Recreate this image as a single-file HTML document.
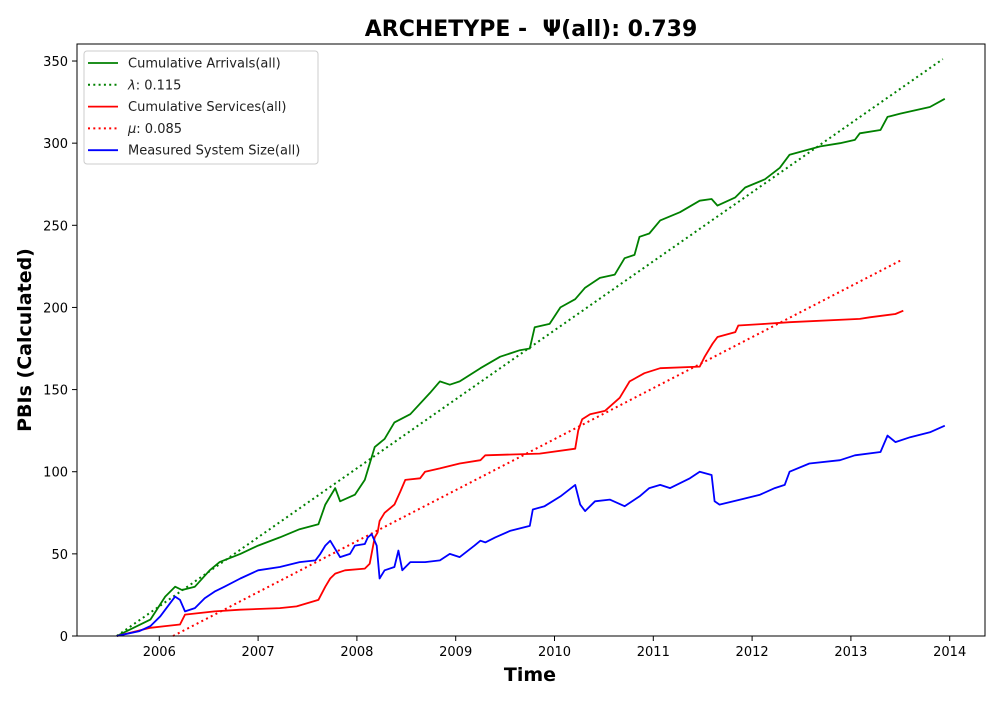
<!DOCTYPE html>
<html><head><meta charset="utf-8"><style>
body{margin:0;background:#fff;font-family:"Liberation Sans","DejaVu Sans",sans-serif}
</style></head><body>
<svg id="chart" width="1000" height="700" xmlns="http://www.w3.org/2000/svg" font-family="DejaVu Sans, Liberation Sans, sans-serif">
<rect width="1000" height="700" fill="#fff"/>
<text x="531" y="36" text-anchor="middle" font-size="22" font-weight="bold">ARCHETYPE -&#160; Ψ(all): 0.739</text>
<text x="530" y="681" text-anchor="middle" font-size="19" font-weight="bold">Time</text>
<text transform="translate(31,340) rotate(-90)" text-anchor="middle" font-size="19" font-weight="bold">PBIs (Calculated)</text>
<g id="ticks"></g>
<g id="series"></g>
<rect x="77" y="44" width="908" height="592" fill="none" stroke="#000" stroke-width="1"/>
<g id="legend">
<rect x="84" y="51" width="234" height="113" rx="3" fill="#fff" fill-opacity="0.8" stroke="#ccc"/>
</g>
</svg>
<script>
const arrYears=[2005.57,2005.91,2006.06,2006.16,2006.23,2006.36,2006.51,2006.61,2006.82,2007.00,2007.22,2007.42,2007.61,2007.68,2007.78,2007.83,2007.98,2008.08,2008.18,2008.28,2008.38,2008.54,2008.74,2008.84,2008.94,2009.04,2009.25,2009.45,2009.65,2009.75,2009.80,2009.95,2010.06,2010.21,2010.31,2010.46,2010.61,2010.71,2010.81,2010.86,2010.96,2011.07,2011.27,2011.47,2011.59,2011.65,2011.83,2011.93,2012.13,2012.28,2012.38,2012.69,2012.89,2013.04,2013.09,2013.30,2013.37,2013.50,2013.80,2013.95];
const arrVals=[0,10,24,30,28,30,40,45,50,55,60,65,68,80,90,82,86,95,115,120,130,135,148,155,153,155,163,170,174,175,188,190,200,205,212,218,220,230,232,243,245,253,258,265,266,262,267,273,278,285,293,298,300,302,306,308,316,318,322,327];
const svcYears=[2005.57,2005.91,2006.06,2006.21,2006.26,2006.41,2006.56,2006.82,2007.22,2007.39,2007.61,2007.68,2007.73,2007.78,2007.88,2008.08,2008.13,2008.18,2008.21,2008.23,2008.28,2008.38,2008.44,2008.49,2008.64,2008.69,2008.84,2009.04,2009.25,2009.30,2009.85,2010.21,2010.24,2010.28,2010.36,2010.51,2010.66,2010.76,2010.91,2011.07,2011.47,2011.52,2011.60,2011.65,2011.83,2011.86,2012.13,2012.38,2013.09,2013.19,2013.45,2013.53];
const svcVals=[0,5,6,7,13,14,15,16,17,18,22,30,35,38,40,41,44,60,63,70,75,80,88,95,96,100,102,105,107,110,111,114,125,132,135,137,145,155,160,163,164,170,178,182,185,189,190,191,193,194,196,198];
const sysYears=[2005.57,2005.80,2005.91,2006.01,2006.11,2006.16,2006.21,2006.26,2006.36,2006.46,2006.56,2006.66,2006.82,2007.00,2007.22,2007.42,2007.58,2007.63,2007.68,2007.73,2007.83,2007.93,2007.98,2008.08,2008.11,2008.15,2008.20,2008.23,2008.28,2008.38,2008.42,2008.46,2008.54,2008.69,2008.84,2008.94,2009.04,2009.19,2009.25,2009.30,2009.40,2009.55,2009.75,2009.78,2009.90,2010.06,2010.21,2010.26,2010.31,2010.41,2010.56,2010.71,2010.86,2010.96,2011.07,2011.17,2011.37,2011.47,2011.59,2011.62,2011.67,2011.88,2012.08,2012.23,2012.33,2012.38,2012.58,2012.89,2013.04,2013.30,2013.37,2013.45,2013.60,2013.80,2013.95];
const sysVals=[0,3,6,12,20,24,22,15,17,23,27,30,35,40,42,45,46,50,55,58,48,50,55,56,60,62,55,35,40,42,52,40,45,45,46,50,48,55,58,57,60,64,67,77,79,85,92,80,76,82,83,79,85,90,92,90,96,100,98,82,80,83,86,90,92,100,105,107,110,112,122,118,121,124,128];
const lamStart=2005.57, lamRate=0.115, lamEnd=2013.93;
const muStart=2006.14, muRate=0.085, muEnd=2013.52;
const xTicks=[2006,2007,2008,2009,2010,2011,2012,2013,2014];
const yTicks=[0,50,100,150,200,250,300,350];

const NS="http://www.w3.org/2000/svg";
const X=y=>159.3+(y-2006)*98.8;
const Y=v=>636-v*1.6428;
function mk(tag,attrs,parent){const e=document.createElementNS(NS,tag);for(const k in attrs)e.setAttribute(k,attrs[k]);parent.appendChild(e);return e;}
const tg=document.getElementById('ticks');
xTicks.forEach(t=>{
  const l=mk('line',{x1:X(t),x2:X(t),y1:636,y2:641,stroke:'#000'},tg);
  
  
  const tx=mk('text',{x:X(t),y:656,'text-anchor':'middle','font-size':13},tg);
  tx.textContent=t;
  
  
});
yTicks.forEach(t=>{
  const l=mk('line',{x1:72,x2:77,y1:Y(t),y2:Y(t),stroke:'#000'},tg);
  
  
  const tx=mk('text',{x:68,y:Y(t)+5,'text-anchor':'end','font-size':13},tg);
  tx.textContent=t;
  
  
});
const sg=document.getElementById('series');
function poly(xs,vs,color,dash,name){
  const pts=xs.map((x,i)=>X(x).toFixed(1)+','+Y(vs[i]).toFixed(1)).join(' ');
  const p=mk('polyline',{points:pts,fill:'none',stroke:color,'stroke-width':1.8,'stroke-linejoin':'round'},sg);
  if(dash){p.setAttribute('stroke-dasharray','2,3.3');p.setAttribute('stroke-width','2');}
  
  
}
poly([lamStart,lamEnd],[0,lamRate*365.25*(lamEnd-lamStart)],'green',true,'lambda-fit-line');
poly([muStart,muEnd],[0,muRate*365.25*(muEnd-muStart)],'red',true,'mu-fit-line');
poly(arrYears,arrVals,'green',false,'cumulative-arrivals-line');
poly(svcYears,svcVals,'red',false,'cumulative-services-line');
poly(sysYears,sysVals,'blue',false,'system-size-line');
const lg=document.getElementById('legend');
const items=[['green',false,'Cumulative Arrivals(all)',''],['green',true,': 0.115','λ'],['red',false,'Cumulative Services(all)',''],['red',true,': 0.085','μ'],['blue',false,'Measured System Size(all)','']];
items.forEach((it,i)=>{
  const y=63+i*21.8;
  const l=mk('line',{x1:88,x2:118,y1:y,y2:y,stroke:it[0],'stroke-width':it[1]?2:1.8},lg);
  if(it[1])l.setAttribute('stroke-dasharray','2,3.3');
  
  
  const t=mk('text',{x:128,y:y+4.5,'font-size':13,fill:'#222'},lg);
  if(it[3]){
    const s=mk('tspan',{'font-style':'italic'},t);
    s.textContent=it[3];
    const r=mk('tspan',{},t);
    r.textContent=it[2];
  } else t.textContent=it[2];
  
  
});
</script>
</body></html>
